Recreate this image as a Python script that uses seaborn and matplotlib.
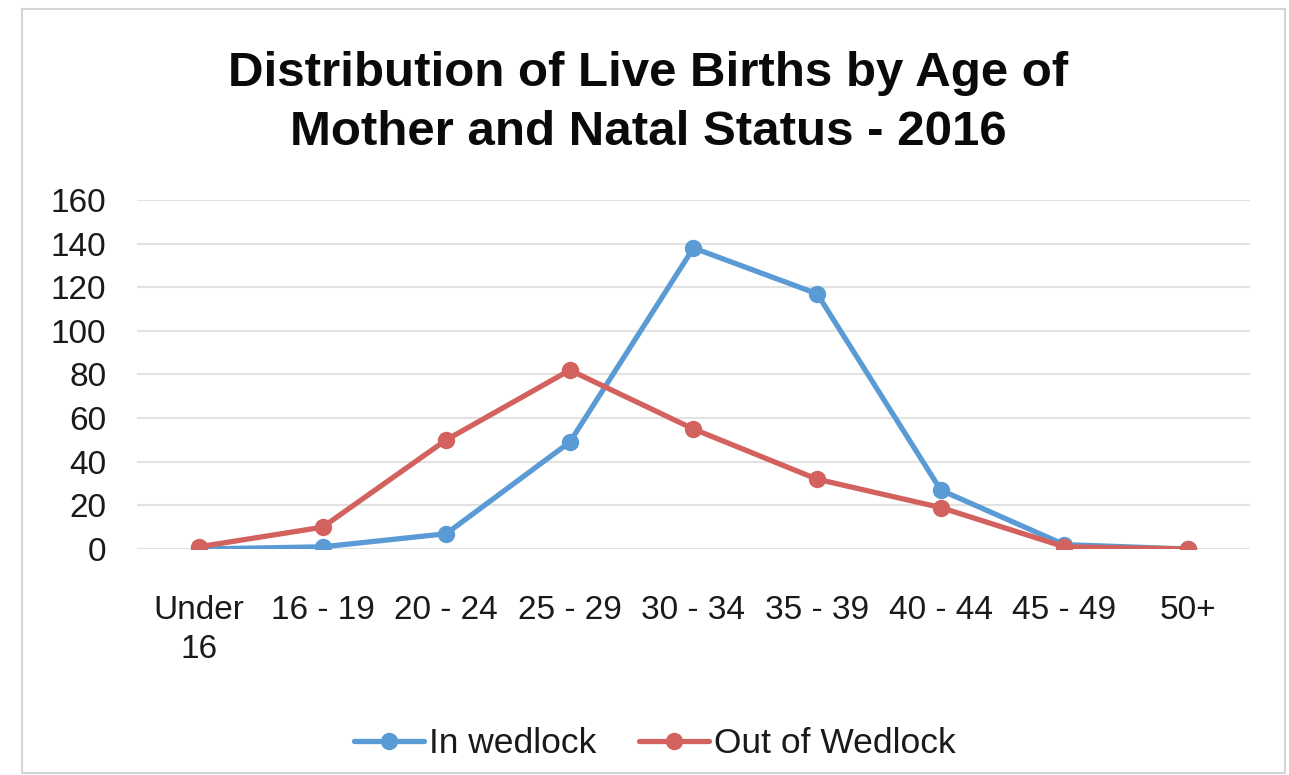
import pandas as pd
import seaborn as sns
import matplotlib.pyplot as plt
from matplotlib.patches import Rectangle

# -------- Data -------- #
age_groups = ["Under\n16", "16 - 19", "20 - 24", "25 - 29", "30 - 34",
              "35 - 39", "40 - 44", "45 - 49", "50+"]
in_wedlock = [0, 1, 7, 49, 138, 117, 27, 2, 0]
out_of_wedlock = [1, 10, 50, 82, 55, 32, 19, 1, 0]
series_names = ["In wedlock", "Out of Wedlock"]
series_colors = ["#5B9BD5", "#D3625E"]

df = pd.DataFrame({
    "age": list(range(len(age_groups))) * 2,
    "births": in_wedlock + out_of_wedlock,
    "status": [series_names[0]] * len(age_groups) + [series_names[1]] * len(age_groups),
})

sns.set_theme(style="white")
plt.rcParams["font.family"] = ["Liberation Sans", "DejaVu Sans"]

fig = plt.figure(figsize=(12.89, 7.75), dpi=100)
ax = fig.add_axes([0.1063, 0.2916, 0.8634, 0.4504])

sns.lineplot(data=df, x="age", y="births", hue="status", palette=series_colors,
             marker="o", markersize=12.5, markeredgewidth=0, linewidth=3.8,
             sort=False, ax=ax, legend=True)

ax.set_xlim(-0.5, len(age_groups) - 0.5)
ax.set_ylim(0, 160)
ax.set_yticks(range(0, 161, 20))
ax.set_xticks(range(len(age_groups)))
ax.set_xticklabels(age_groups, fontsize=24, color="#1a1a1a", linespacing=1.35)
ax.tick_params(axis="y", labelsize=24, labelcolor="#1a1a1a", pad=22, length=0)
ax.tick_params(axis="x", pad=33, length=0)
ax.grid(axis="y", color="#E2E2E2", linewidth=1.5)
ax.set_axisbelow(True)
for s in ax.spines.values():
    s.set_visible(False)
ax.set_xlabel("")
ax.set_ylabel("")

handles, labels = ax.get_legend_handles_labels()
ax.legend(handles, labels, loc="center", bbox_to_anchor=(0.465, -0.557),
          ncol=2, frameon=False, fontsize=25.5, handlelength=2.0,
          handletextpad=0.12, columnspacing=1.2, labelcolor="#1a1a1a")

fig.text(0.503, 0.867, "Distribution of Live Births by Age of\nMother and Natal Status - 2016",
         ha="center", va="center", fontsize=35.5, fontweight="bold",
         linespacing=1.4, color="#0a0a0a")

fig.patches.append(Rectangle((0.017, 0.003), 0.98, 0.985, transform=fig.transFigure,
                             fill=False, edgecolor="#D5D5D5", linewidth=1.5))

fig.savefig("out.png", dpi=100)
